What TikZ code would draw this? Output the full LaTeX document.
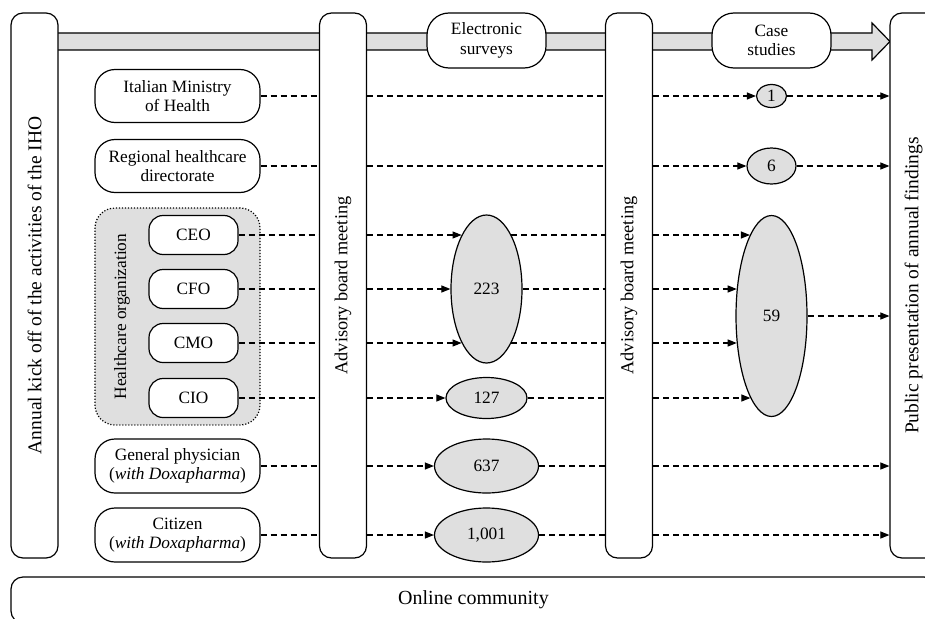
\documentclass[tikz,border=0pt]{standalone}
\usepackage{fontspec}
\usepackage{graphicx}
\setmainfont{Liberation Serif}
\usetikzlibrary{arrows.meta,calc,shapes.geometric}
\newcommand\toEllipse[3]{%
  \draw[#1] let \p1=(#3.center),\p2=(#3.north),\p3=(#3.east),\p4=(#2) in
    (\p4) -- ({\x1-(\x3-\x1)*sqrt(1-((\y4-\y1)/(\y2-\y1))^2)},\y4);}
\newcommand\fromEllipse[3]{%
  \draw[#1] let \p1=(#2.center),\p2=(#2.north),\p3=(#2.east),\p4=(#3) in
    ({\x1+(\x3-\x1)*sqrt(1-((\y4-\y1)/(\y2-\y1))^2)},\y4) -- (\p4);}
\tikzset{
  outline/.style={draw=black, line width=1.2pt},
  colbox/.style={outline, fill=white, rounded corners=12pt, minimum width=47pt, minimum height=545pt, inner sep=0pt},
  collabel/.style={font=\fontsize{19.5}{22}\selectfont},
  phase/.style={outline, fill=white, rounded corners=22pt, minimum width=119pt, minimum height=55pt, inner sep=0pt, align=center},
  actor/.style={outline, fill=white, rounded corners=20pt, minimum width=165pt, minimum height=53pt, inner sep=0pt, align=center},
  role/.style={outline, fill=white, rounded corners=14pt, minimum width=89pt, minimum height=39pt, inner sep=0pt},
  groupbox/.style={draw=black, line width=1.2pt, dash pattern=on 1.2pt off 1.8pt, fill=gray!25, rounded corners=20pt, minimum width=165pt, minimum height=217pt, inner sep=0pt},
  count/.style={ellipse, outline, fill=gray!25, inner sep=0pt},
  flow/.style={line width=1.1pt, dash pattern=on 6pt off 4pt},
  flowarrow/.style={flow, -{Triangle[length=9pt,width=7pt]}},
  bigtext/.style={font=\fontsize{20}{22}\selectfont}
}
\begin{document}
\begin{tikzpicture}[x=1pt,y=-1pt,font=\fontsize{17.3}{19.5}\selectfont]
\useasboundingbox (0,0) rectangle (925,618);
\clip (0,0) rectangle (925,618);

% online community
\node[outline, fill=white, rounded corners=12pt, minimum width=925pt, minimum height=46pt, inner sep=0pt, bigtext] (online) at (473.5,600) {Online community};

% grey timeline arrow
\draw[outline, fill=gray!25] (34.5,33) -- (872,33) -- (872,23) -- (890,41.5) -- (872,60) -- (872,50) -- (34.5,50) -- cycle;

% columns
\node[colbox, collabel] (col1) at (34.5,285.5) {\rotatebox{90}{Annual kick off of the activities of the IHO}};
\node[colbox, font=\fontsize{18.3}{21}\selectfont] (col2) at (343,285.5) {\rotatebox{90}{Advisory board meeting}};
\node[colbox, font=\fontsize{18.3}{21}\selectfont] (col3) at (629,285.5) {\rotatebox{90}{Advisory board meeting}};
\node[colbox, collabel] (col4) at (913.5,285.5) {\rotatebox{90}{Public presentation of annual findings}};

% phases
\node[phase] (surveys) at (486.5,40.5) {Electronic\\surveys};
\node[phase] (cases) at (771.5,40.5) {Case\\studies};

% actors
\node[actor] (ministry) at (177.5,96) {Italian Ministry\\of Health};
\node[actor] (regional) at (177.5,166) {Regional healthcare\\directorate};
\node[groupbox] (grp) at (177.5,316.5) {};
\node[rotate=90] (grplabel) at (122,316.5) {Healthcare organization};
\node[role] (ceo) at (193.5,235) {CEO};
\node[role] (cfo) at (193.5,289) {CFO};
\node[role] (cmo) at (193.5,343) {CMO};
\node[role] (cio) at (193.5,398) {CIO};
\node[actor, minimum height=54pt] (gp) at (177.5,466) {General physician\\(\textit{with Doxapharma})};
\node[actor, minimum height=54pt] (citizen) at (177.5,535) {Citizen\\(\textit{with Doxapharma})};

% counts
\node[count, minimum width=30pt, minimum height=23pt] (e1) at (771.5,96) {1};
\node[count, minimum width=49pt, minimum height=36pt] (e6) at (771.5,166) {6};
\node[count, minimum width=71pt, minimum height=148pt] (e223) at (486.5,289) {223};
\node[count, minimum width=81pt, minimum height=41pt] (e127) at (486.5,398) {127};
\node[count, minimum width=71pt, minimum height=201pt] (e59) at (771.5,316) {59};
\node[count, minimum width=104pt, minimum height=54pt] (e637) at (486.5,466) {637};
\node[count, minimum width=104pt, minimum height=54pt] (e1001) at (486.5,535) {1,001};

% Ministry
\draw[flow] (ministry.east) -- (ministry.east -| col2.west);
\draw[flow] (ministry.east -| col2.east) -- (ministry.east -| col3.west);
\draw[flowarrow] (ministry.east -| col3.east) -- (e1.west);
\draw[flowarrow] (e1.east) -- (e1.east -| col4.west);
% Regional
\draw[flow] (regional.east) -- (regional.east -| col2.west);
\draw[flow] (regional.east -| col2.east) -- (regional.east -| col3.west);
\draw[flowarrow] (regional.east -| col3.east) -- (e6.west);
\draw[flowarrow] (e6.east) -- (e6.east -| col4.west);
% CEO
\draw[flow] (ceo.east) -- (ceo.east -| col2.west);
\toEllipse{flowarrow}{ceo.east -| col2.east}{e223}
\fromEllipse{flow}{e223}{ceo.east -| col3.west}
\toEllipse{flowarrow}{ceo.east -| col3.east}{e59}
% CFO
\draw[flow] (cfo.east) -- (cfo.east -| col2.west);
\draw[flowarrow] (cfo.east -| col2.east) -- (e223.west);
\draw[flow] (e223.east) -- (cfo.east -| col3.west);
\toEllipse{flowarrow}{cfo.east -| col3.east}{e59}
% CMO
\draw[flow] (cmo.east) -- (cmo.east -| col2.west);
\toEllipse{flowarrow}{cmo.east -| col2.east}{e223}
\fromEllipse{flow}{e223}{cmo.east -| col3.west}
\toEllipse{flowarrow}{cmo.east -| col3.east}{e59}
% CIO
\draw[flow] (cio.east) -- (cio.east -| col2.west);
\draw[flowarrow] (cio.east -| col2.east) -- (e127.west);
\draw[flow] (e127.east) -- (cio.east -| col3.west);
\toEllipse{flowarrow}{cio.east -| col3.east}{e59}
% 59 to presentation
\draw[flowarrow] (e59.east) -- (e59.east -| col4.west);
% General physician
\draw[flow] (gp.east) -- (gp.east -| col2.west);
\draw[flowarrow] (gp.east -| col2.east) -- (e637.west);
\draw[flow] (e637.east) -- (gp.east -| col3.west);
\draw[flowarrow] (gp.east -| col3.east) -- (gp.east -| col4.west);
% Citizen
\draw[flow] (citizen.east) -- (citizen.east -| col2.west);
\draw[flowarrow] (citizen.east -| col2.east) -- (e1001.west);
\draw[flow] (e1001.east) -- (citizen.east -| col3.west);
\draw[flowarrow] (citizen.east -| col3.east) -- (citizen.east -| col4.west);
\end{tikzpicture}
\end{document}
